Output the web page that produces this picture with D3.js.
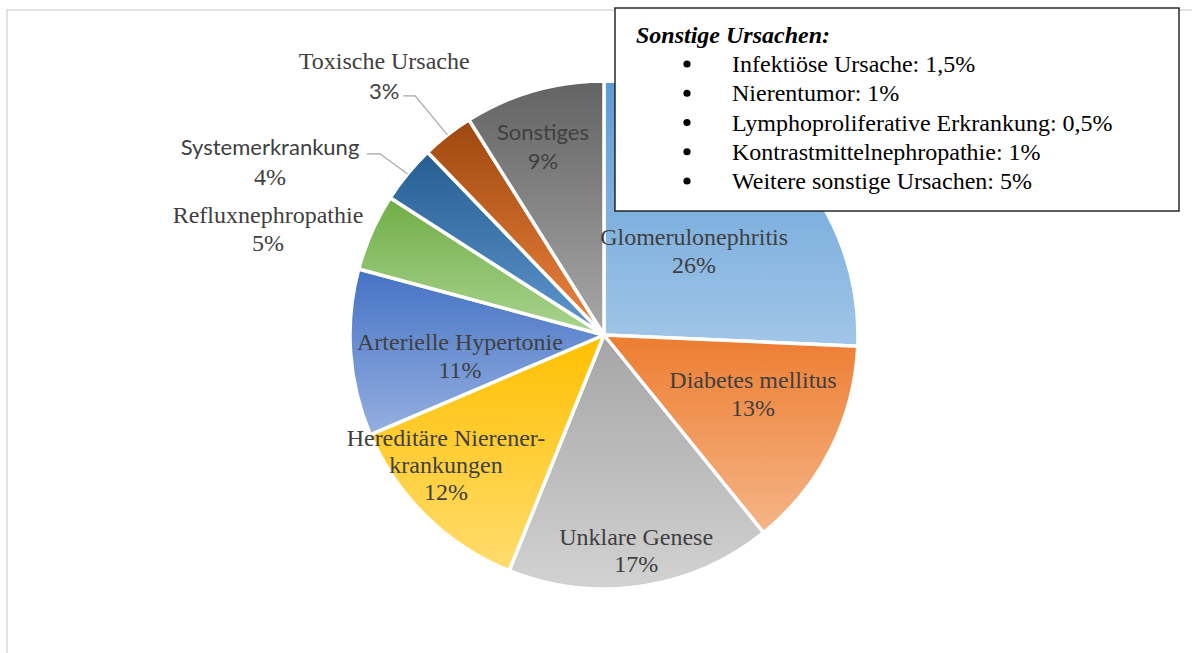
<!DOCTYPE html>
<html><head><meta charset="utf-8">
<script src="https://cdn.jsdelivr.net/npm/d3@7"></script>
<style>html,body{margin:0;padding:0;background:#fff;}svg{display:block;}</style>
</head><body>
<svg id="chart" width="1192" height="653"></svg>
<script>
// ---- data ----
const categories = ["Glomerulonephritis","Diabetes mellitus","Unklare Genese","Hereditäre Nierenerkrankungen","Arterielle Hypertonie","Refluxnephropathie","Systemerkrankung","Toxische Ursache","Sonstiges"];
const values = [25.7,13.49,16.9,12.49,10.6,4.9,3.7,3.3,8.92];
const labelNames = [["Glomerulonephritis"],["Diabetes mellitus"],["Unklare Genese"],["Hereditäre Nierener-","krankungen"],["Arterielle Hypertonie"],["Refluxnephropathie"],["Systemerkrankung"],["Toxische Ursache"],["Sonstiges"]];
const legendTitle = "Sonstige Ursachen:";
const legendItems = ["Infektiöse Ursache: 1,5%","Nierentumor: 1%","Lymphoproliferative Erkrankung: 0,5%","Kontrastmittelnephropathie: 1%","Weitere sonstige Ursachen: 5%"];

// ---- styles / layout ----
const colorTop = ["#5b9bd5","#ed7d31","#a5a5a5","#ffc000","#4472c4","#70ad47","#255e91","#9e480e","#636363"];
const colorBottom = ["#a2c6e8","#f5b587","#d2d2d2","#ffdc6e","#95afe0","#aad48f","#5f97cf","#ee8440","#a8a8a8"];
const labelFonts = [["serif","serif"],["serif","serif"],["serif","serif"],["serif","serif","serif"],["serif","serif"],["serif","serif"],["sans","serif"],["serif","sans"],["sans","sans"]];
const labelAngle = [47,111.6,171.5,230.6,261.7,287.5,297.4,319.7,342.1];
const labelRadius = [0.485,0.631,0.856,0.805,0.573,1.387,1.481,1.338,0.782];
const lineGap = [28,28,27,27,28,28,30,30,29];
const leaderIdx = [6,7];
const leaderEnd = {6:[97,-8,110], 7:[19,20,31]};

const W=1192,H=653, cx=604, cy=335, R=254;
const svg = d3.select("#chart");

svg.append("rect").attr("x",7).attr("y",10).attr("width",1400).attr("height",900)
  .attr("fill","none").attr("stroke","#d9d9d9").attr("stroke-width",1.5);

const defs = svg.append("defs");
colorTop.forEach((c,i)=>{
  const g = defs.append("linearGradient").attr("id","g"+i).attr("x1",0).attr("y1",0).attr("x2",0).attr("y2",1);
  g.append("stop").attr("offset","0%").attr("stop-color",c);
  g.append("stop").attr("offset","100%").attr("stop-color",colorBottom[i]);
});

const pie = d3.pie().sort(null).value(d=>d)(values);
const arc = d3.arc().innerRadius(0).outerRadius(R);
const gPie = svg.append("g").attr("transform",`translate(${cx},${cy})`);
gPie.selectAll("path").data(pie).join("path")
  .attr("d",arc).attr("fill",(d,i)=>`url(#g${i})`)
  .attr("stroke","#fff").attr("stroke-width",3.5).attr("stroke-linejoin","round");

const toXY = (deg, r)=>{const a=deg*Math.PI/180; return [Math.sin(a)*r, -Math.cos(a)*r];};
const total = d3.sum(values);
pie.forEach((d,i)=>{
  const lines = labelNames[i].concat([Math.round(values[i]/total*100)+"%"]);
  const [lx,ly] = toXY(labelAngle[i], labelRadius[i]*R);
  const n = lines.length;
  lines.forEach((t,j)=>{
    const f = labelFonts[i][j];
    gPie.append("text")
      .attr("x",lx).attr("y",ly+(j-(n-1)/2)*lineGap[i])
      .attr("text-anchor","middle").attr("dominant-baseline","central")
      .attr("fill","#404040")
      .style("font-family", f==="serif" ? "'Liberation Serif','Times New Roman',serif" : "Lato,'Liberation Sans',sans-serif")
      .style("font-size", f==="serif" ? "24px" : "22px")
      .text(t);
  });
  if (leaderIdx.includes(i)) {
    const mid = (d.startAngle+d.endAngle)/2*180/Math.PI;
    const [sx,sy] = toXY(mid, R);
    const e = leaderEnd[i];
    gPie.append("polyline")
      .attr("points",`${sx},${sy} ${lx+e[2]},${ly+e[1]} ${lx+e[0]},${ly+e[1]}`)
      .attr("fill","none").attr("stroke","#a6a6a6").attr("stroke-width",1.2);
  }
});

const lg = svg.append("g");
lg.append("rect").attr("x",615).attr("y",8).attr("width",564).attr("height",203)
  .attr("fill","#fff").attr("stroke","#1a1a1a").attr("stroke-width",1.4);
lg.append("text").attr("x",636).attr("y",35).attr("dominant-baseline","central")
  .style("font-family","'Liberation Serif','Times New Roman',serif").style("font-size","24px")
  .style("font-weight","bold").style("font-style","italic").attr("fill","#000").text(legendTitle);
const ly0 = 64, lstep = 29.25;
legendItems.forEach((t,i)=>{
  lg.append("circle").attr("cx",687).attr("cy",ly0+i*lstep).attr("r",3.6).attr("fill","#000");
  lg.append("text").attr("x",732).attr("y",ly0+i*lstep).attr("dominant-baseline","central")
    .style("font-family","'Liberation Serif','Times New Roman',serif").style("font-size","24px")
    .attr("fill","#000").text(t);
});
</script>
</body></html>
